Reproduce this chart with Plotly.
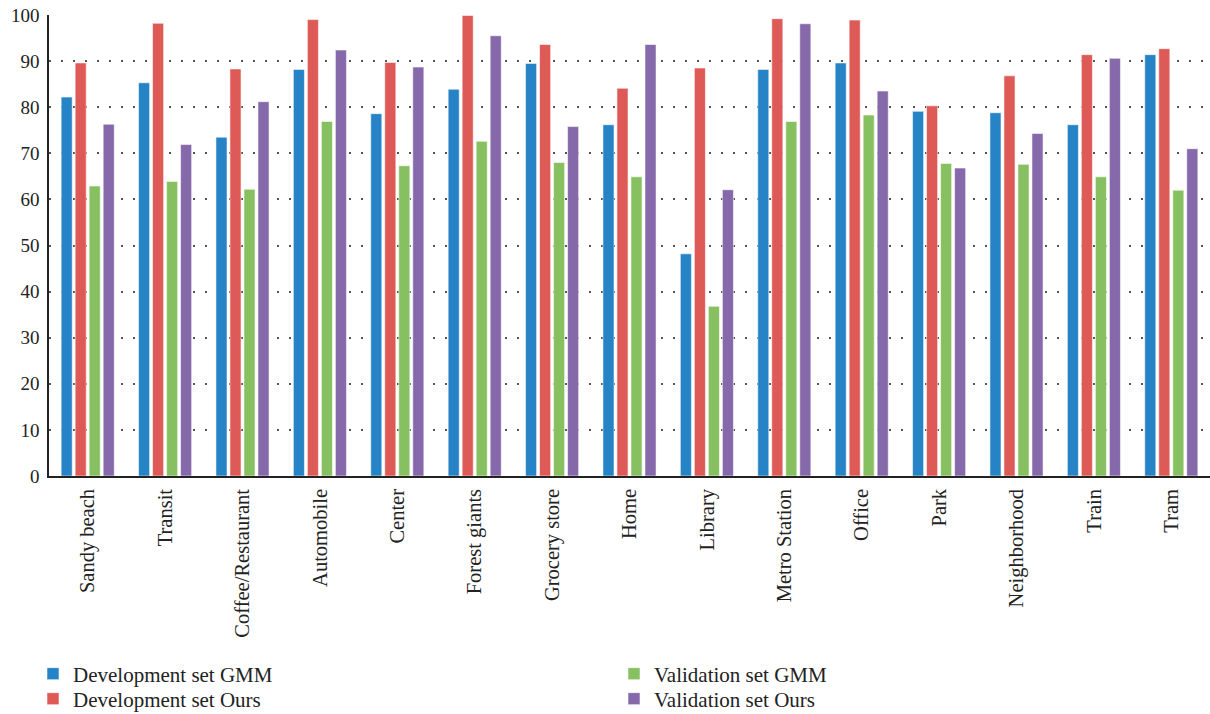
import plotly.graph_objects as go

categories = ["Sandy beach", "Transit", "Coffee/Restaurant", "Automobile", "Center",
              "Forest giants", "Grocery store", "Home", "Library", "Metro Station",
              "Office", "Park", "Neighborhood", "Train", "Tram"]

dev_gmm = [82.2, 85.3, 73.5, 88.2, 78.6, 83.9, 89.5, 76.2, 48.2, 88.2, 89.6, 79.1, 78.8, 76.2, 91.4]
dev_ours = [89.6, 98.2, 88.3, 99.0, 89.7, 99.9, 93.6, 84.1, 88.5, 99.2, 98.9, 80.3, 86.8, 91.4, 92.7]
val_gmm = [62.9, 63.9, 62.2, 76.9, 67.3, 72.6, 68.0, 64.9, 36.8, 76.9, 78.3, 67.8, 67.6, 64.9, 62.0]
val_ours = [76.3, 71.9, 81.2, 92.4, 88.7, 95.5, 75.8, 93.6, 62.1, 98.1, 83.5, 66.8, 74.3, 90.6, 71.0]

# name, values, colour, legend id
series = [
    ("Development set GMM", dev_gmm, "#2684C6", "legend"),
    ("Development set Ours", dev_ours, "#DE5A56", "legend2"),
    ("Validation set GMM", val_gmm, "#87C060", "legend3"),
    ("Validation set Ours", val_ours, "#8669AA", "legend4"),
]

FONT = "Liberation Serif, Times New Roman, serif"
LEG_FONT = dict(family=FONT, size=21, color="#222222")

W, H = 1210, 714
L, R, T, B = 49, 0, 15, 238
PW, PH = W - L - R, H - T - B


def px_x(x):
    return (x - L) / PW


def px_y(y):
    return (H - B - y) / PH


fig = go.Figure()
for name, vals, col, leg in series:
    fig.add_trace(go.Bar(
        x=categories, y=vals, name=name, legend=leg,
        marker=dict(color=col, line=dict(color="rgba(255,255,255,0.55)", width=1)),
    ))

leg_pos = {
    "legend": (33, 674),
    "legend2": (33, 699),
    "legend3": (614, 674),
    "legend4": (614, 699),
}
legends = {}
for k, (lx, ly) in leg_pos.items():
    legends[k] = dict(
        x=px_x(lx), xanchor="left", y=px_y(ly), yanchor="middle",
        font=LEG_FONT, bgcolor="rgba(0,0,0,0)", borderwidth=0,
    )

fig.update_layout(
    width=W, height=H,
    margin=dict(l=L, r=R, t=T, b=B, autoexpand=False),
    paper_bgcolor="white", plot_bgcolor="white",
    barmode="group", bargap=0.276, bargroupgap=0.21,
    font=dict(family=FONT, size=19, color="#222222"),
    showlegend=True,
    **legends,
    xaxis=dict(
        tickangle=-90, showgrid=False, showline=True, linecolor="#222222", linewidth=1.5,
        ticks="", tickfont=dict(family=FONT, size=20.5, color="#222222"),
        ticklabelstandoff=3, automargin=False,
    ),
    yaxis=dict(
        range=[0, 100], dtick=10, showline=True, linecolor="#222222", linewidth=1.5,
        showgrid=True, gridcolor="#555555", gridwidth=2, griddash="2px,10px",
        zeroline=False, ticks="", tickfont=dict(family=FONT, size=19, color="#222222"),
        ticklabelstandoff=4, automargin=False,
    ),
)

fig.write_html(
    "out.html",
    config={"displayModeBar": False},
    post_script="document.body.style.margin='0';document.body.style.overflow='hidden';",
)
